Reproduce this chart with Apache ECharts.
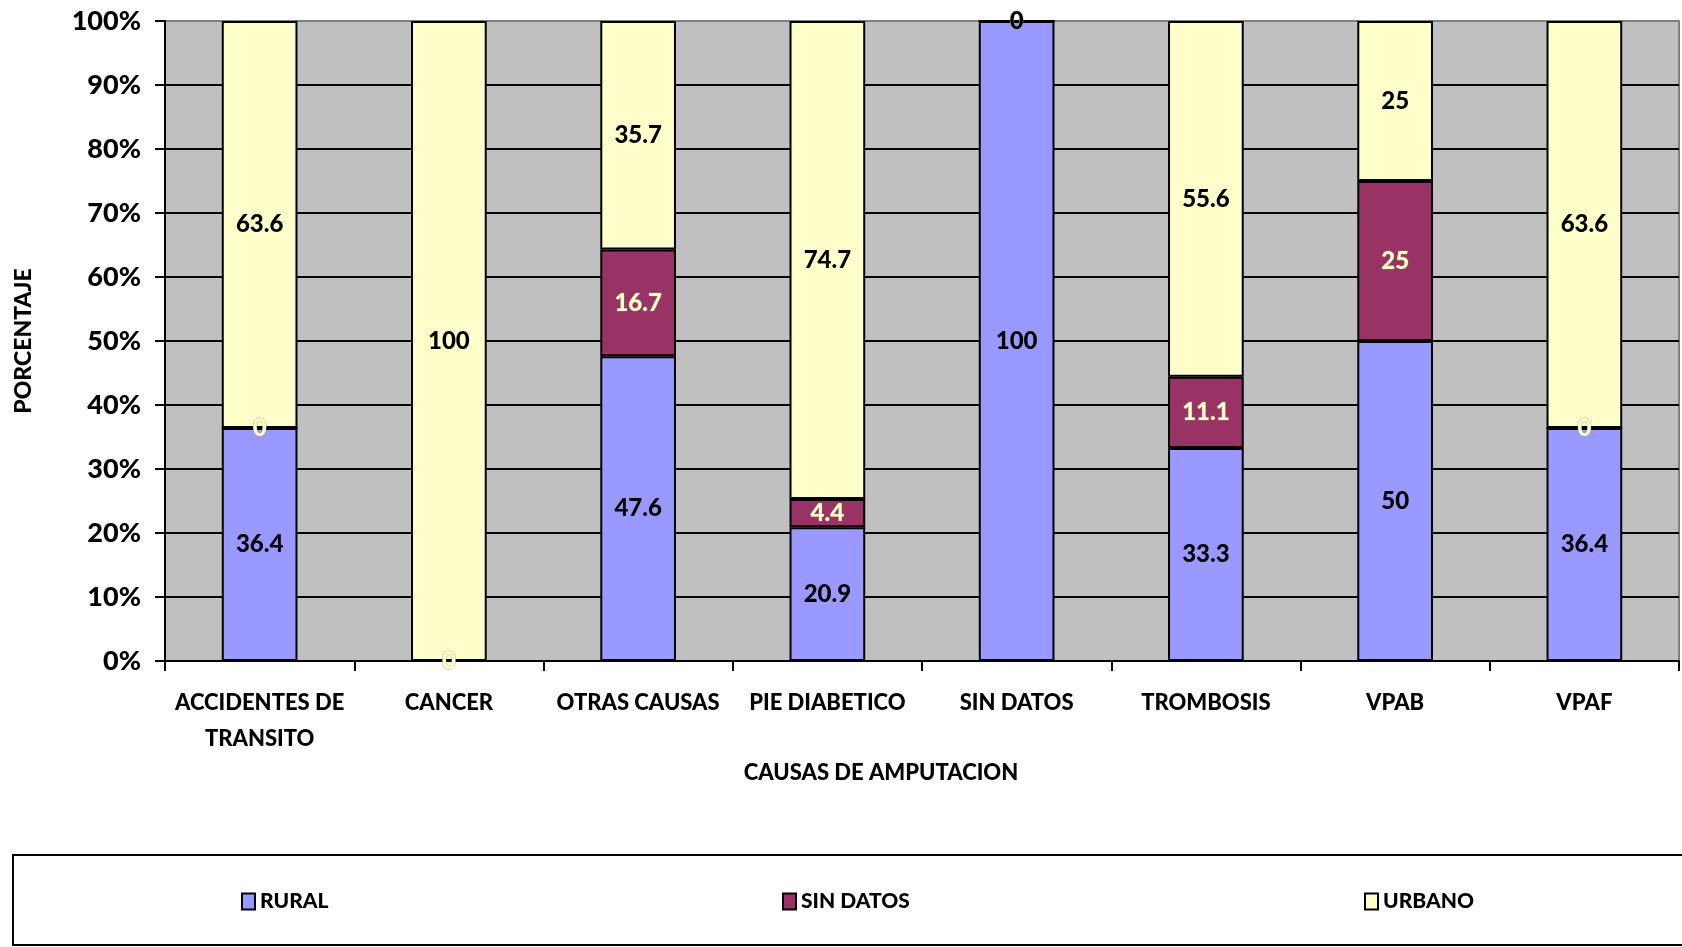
<!DOCTYPE html>
<html>
<head>
<meta charset="utf-8">
<script src="https://cdn.jsdelivr.net/npm/echarts@6/dist/echarts.min.js"></script>
<style>
  html, body { margin: 0; padding: 0; background: #ffffff; }
  #chart { width: 1682px; height: 947px; }
</style>
</head>
<body>
<div id="chart"></div>
<script>
// Causes of amputation by area of residence (percent per cause)
const categories = ['ACCIDENTES DE\nTRANSITO', 'CANCER', 'OTRAS CAUSAS', 'PIE DIABETICO', 'SIN DATOS', 'TROMBOSIS', 'VPAB', 'VPAF'];
const rural    = [36.4, 0, 47.6, 20.9, 100, 33.3, 50, 36.4];
const sinDatos = [0, 0, 16.7, 4.4, 0, 11.1, 25, 0];
const urbano   = [63.6, 100, 35.7, 74.7, 0, 55.6, 25, 63.6];
const yTicks   = [0, 10, 20, 30, 40, 50, 60, 70, 80, 90, 100];

const FONT = 'Lato';
const HEAVY = 900;
const chart = echarts.init(document.getElementById('chart'), null, { renderer: 'canvas' });

function barSeries(name, data, color, labelColor, labelOpts) {
  return {
    name: name,
    type: 'bar',
    stack: 'total',
    barWidth: '40%',
    data: data,
    itemStyle: { color: color, borderColor: '#000000', borderWidth: 2 },
    emphasis: { disabled: true },
    label: Object.assign({
      show: true,
      position: 'inside',
      color: labelColor,
      fontFamily: FONT,
      fontWeight: HEAVY,
      fontSize: 24,
      textBorderWidth: 0
    }, labelOpts || {})
  };
}

// one legend block per series so each entry sits at its own spot in the box
const legendSlots = [
  { name: 'RURAL', left: 236 },
  { name: 'SIN DATOS', left: 777 },
  { name: 'URBANO', left: 1359 }
];

const splitColors = yTicks.map((v, i) => i === yTicks.length - 1 ? '#808080' : '#000000');

chart.setOption({
  animation: false,
  backgroundColor: '#ffffff',
  grid: {
    left: 165, right: 3, top: 21, bottom: 286,
    show: true,
    backgroundColor: '#C0C0C0',
    borderColor: '#808080',
    borderWidth: 2
  },
  legend: legendSlots.map(s => ({
    data: [s.name],
    left: s.left,
    top: 886,
    icon: 'rect',
    itemWidth: 13,
    itemHeight: 16,
    itemGap: 6,
    selectedMode: false,
    textStyle: { fontFamily: FONT, fontWeight: HEAVY, fontSize: 21, color: '#000000', padding: [0, 0, 0, 0] }
  })),
  xAxis: {
    type: 'category',
    data: categories,
    boundaryGap: true,
    name: 'CAUSAS DE AMPUTACION',
    nameLocation: 'middle',
    nameGap: 96,
    nameTextStyle: { fontFamily: FONT, fontWeight: HEAVY, fontSize: 22, color: '#000000', padding: [0, 82, 0, 0] },
    axisLine: { show: true, lineStyle: { color: '#000000', width: 2 } },
    axisTick: { show: true, length: 10, lineStyle: { color: '#000000', width: 2 } },
    axisLabel: {
      interval: 0,
      margin: 24,
      color: '#000000',
      fontFamily: FONT,
      fontWeight: HEAVY,
      fontSize: 22,
      lineHeight: 36
    },
    splitLine: { show: false }
  },
  yAxis: {
    type: 'value',
    min: 0,
    max: 100,
    interval: 10,
    name: 'PORCENTAJE',
    nameLocation: 'middle',
    nameGap: 130,
    nameRotate: 90,
    nameTextStyle: { fontFamily: FONT, fontWeight: HEAVY, fontSize: 23, color: '#000000' },
    axisLine: { show: true, lineStyle: { color: '#000000', width: 2 } },
    axisTick: { show: true, length: 10, lineStyle: { color: '#000000', width: 2 } },
    axisLabel: {
      margin: 24,
      color: '#000000',
      fontFamily: FONT,
      fontWeight: HEAVY,
      fontSize: 27,
      formatter: '{value}%'
    },
    splitLine: { show: true, lineStyle: { color: splitColors, width: 2 } }
  },
  series: [
    barSeries('RURAL', rural, '#9999FF', '#000000', {
      formatter: p => (p.value === 0 ? '' : String(p.value))
    }),
    barSeries('SIN DATOS', sinDatos, '#993366', '#FFFFCC', {
      textBorderColor: 'rgba(140,140,100,0.55)',
      textBorderWidth: 1
    }),
    barSeries('URBANO', urbano, '#FFFFCC', '#000000')
  ],
  graphic: [
    {
      type: 'rect',
      z: -1,
      shape: { x: 13, y: 855, width: 1700, height: 90 },
      style: { fill: '#ffffff', stroke: '#000000', lineWidth: 2 }
    }
  ]
});
</script>
</body>
</html>
